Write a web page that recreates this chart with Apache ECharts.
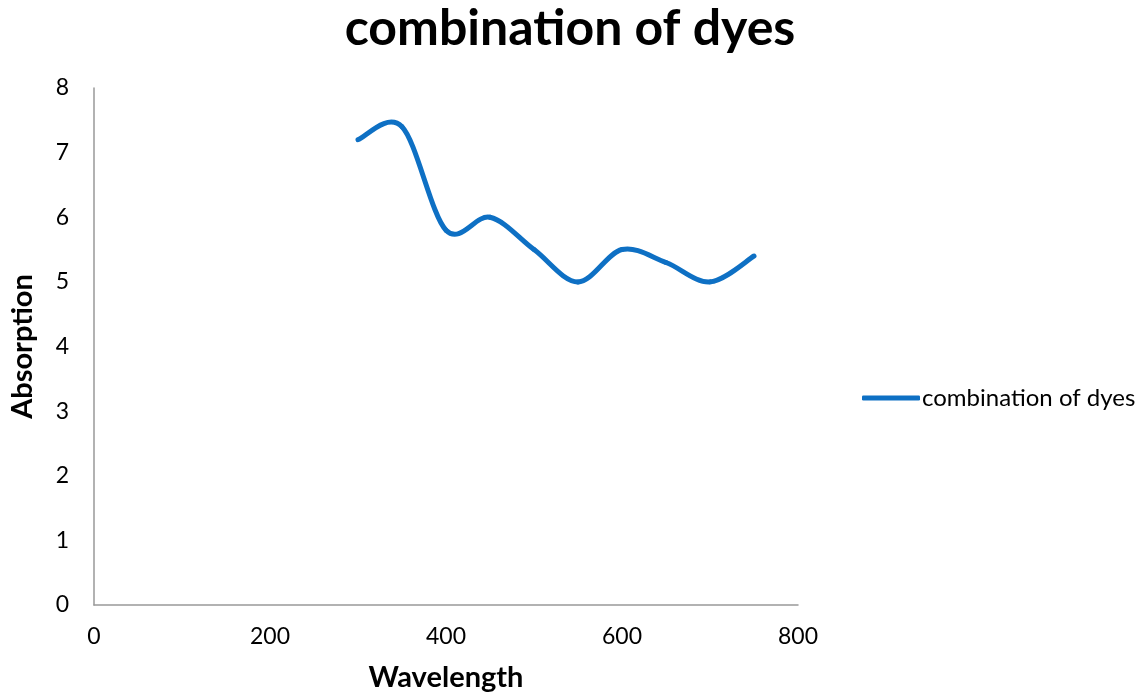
<!DOCTYPE html>
<html>
<head>
<meta charset="utf-8">
<script src="https://cdn.jsdelivr.net/npm/echarts@6/dist/echarts.min.js"></script>
<style>
  html, body { margin: 0; padding: 0; background: #fff; overflow: hidden; }
  #chart { width: 1140px; height: 697px; }
</style>
</head>
<body>
<div id="chart"></div>
<script>
// Absorption spectrum of the dye mixture, sampled every 50 nm
const wavelengths = [300, 350, 400, 450, 500, 550, 600, 650, 700, 750];
const absorption = [7.2, 7.4, 5.8, 6.0, 5.5, 5.0, 5.5, 5.3, 5.0, 5.4];
const seriesName = 'combination of dyes';

const FONT = 'Lato, "Open Sans", sans-serif';
const LINE_COLOR = '#0E70C4';
const chart = echarts.init(document.getElementById('chart'), null, { renderer: 'canvas' });

// Catmull-Rom style smoothing: each segment is a cubic Bezier whose handles
// follow the neighbouring points, so the curve may swing past a sample.
function renderSegment(params, api) {
  const i = params.dataIndex;
  const n = wavelengths.length;
  if (i >= n - 1) return null;
  const pt = j => {
    const k = Math.min(Math.max(j, 0), n - 1);
    return api.coord([wavelengths[k], absorption[k]]);
  };
  const p0 = pt(i - 1), p1 = pt(i), p2 = pt(i + 1), p3 = pt(i + 2);
  return {
    type: 'bezierCurve',
    shape: {
      x1: p1[0], y1: p1[1],
      x2: p2[0], y2: p2[1],
      cpx1: p1[0] + (p2[0] - p0[0]) / 6,
      cpy1: p1[1] + (p2[1] - p0[1]) / 6,
      cpx2: p2[0] - (p3[0] - p1[0]) / 6,
      cpy2: p2[1] - (p3[1] - p1[1]) / 6
    },
    style: { stroke: LINE_COLOR, fill: null, lineWidth: 5, lineCap: 'round' }
  };
}

chart.setOption({
  backgroundColor: '#ffffff',
  animation: false,
  title: {
    text: seriesName,
    left: 'center',
    top: -1,
    textStyle: { fontFamily: FONT, fontWeight: 'bold', fontSize: 50, color: '#000' }
  },
  legend: {
    data: [{ name: seriesName, icon: 'roundRect', itemStyle: { color: LINE_COLOR } }],
    left: 857,
    top: 381,
    orient: 'vertical',
    itemWidth: 58,
    itemHeight: 5,
    itemGap: 6,
    textStyle: { fontFamily: FONT, fontSize: 24, color: '#000', padding: [0, 0, 0, -3] }
  },
  grid: { left: 87, top: 88, width: 711, height: 523, containLabel: false },
  xAxis: {
    type: 'value',
    min: 0,
    max: 800,
    interval: 200,
    name: 'Wavelength',
    nameLocation: 'middle',
    nameGap: 58,
    nameTextStyle: { fontFamily: FONT, fontWeight: 'bold', fontSize: 29, color: '#000' },
    axisLine: { show: true, lineStyle: { color: '#999999', width: 1.5 } },
    axisTick: { show: false },
    splitLine: { show: false },
    axisLabel: { margin: 20, fontFamily: FONT, fontSize: 23, color: '#000' }
  },
  yAxis: {
    type: 'value',
    min: 0,
    max: 8,
    interval: 1,
    name: 'Absorption',
    nameLocation: 'middle',
    nameGap: 57,
    nameTextStyle: { fontFamily: FONT, fontWeight: 'bold', fontSize: 29, color: '#000' },
    axisLine: { show: true, lineStyle: { color: '#999999', width: 1.5 } },
    axisTick: { show: false },
    splitLine: { show: false },
    axisLabel: { margin: 25, fontFamily: FONT, fontSize: 23, color: '#000' }
  },
  series: [{
    name: seriesName,
    type: 'custom',
    renderItem: renderSegment,
    clip: false,
    encode: { x: 0, y: 1 },
    data: wavelengths.map((w, i) => [w, absorption[i]]),
    itemStyle: { color: LINE_COLOR }
  }]
});
</script>
</body>
</html>
